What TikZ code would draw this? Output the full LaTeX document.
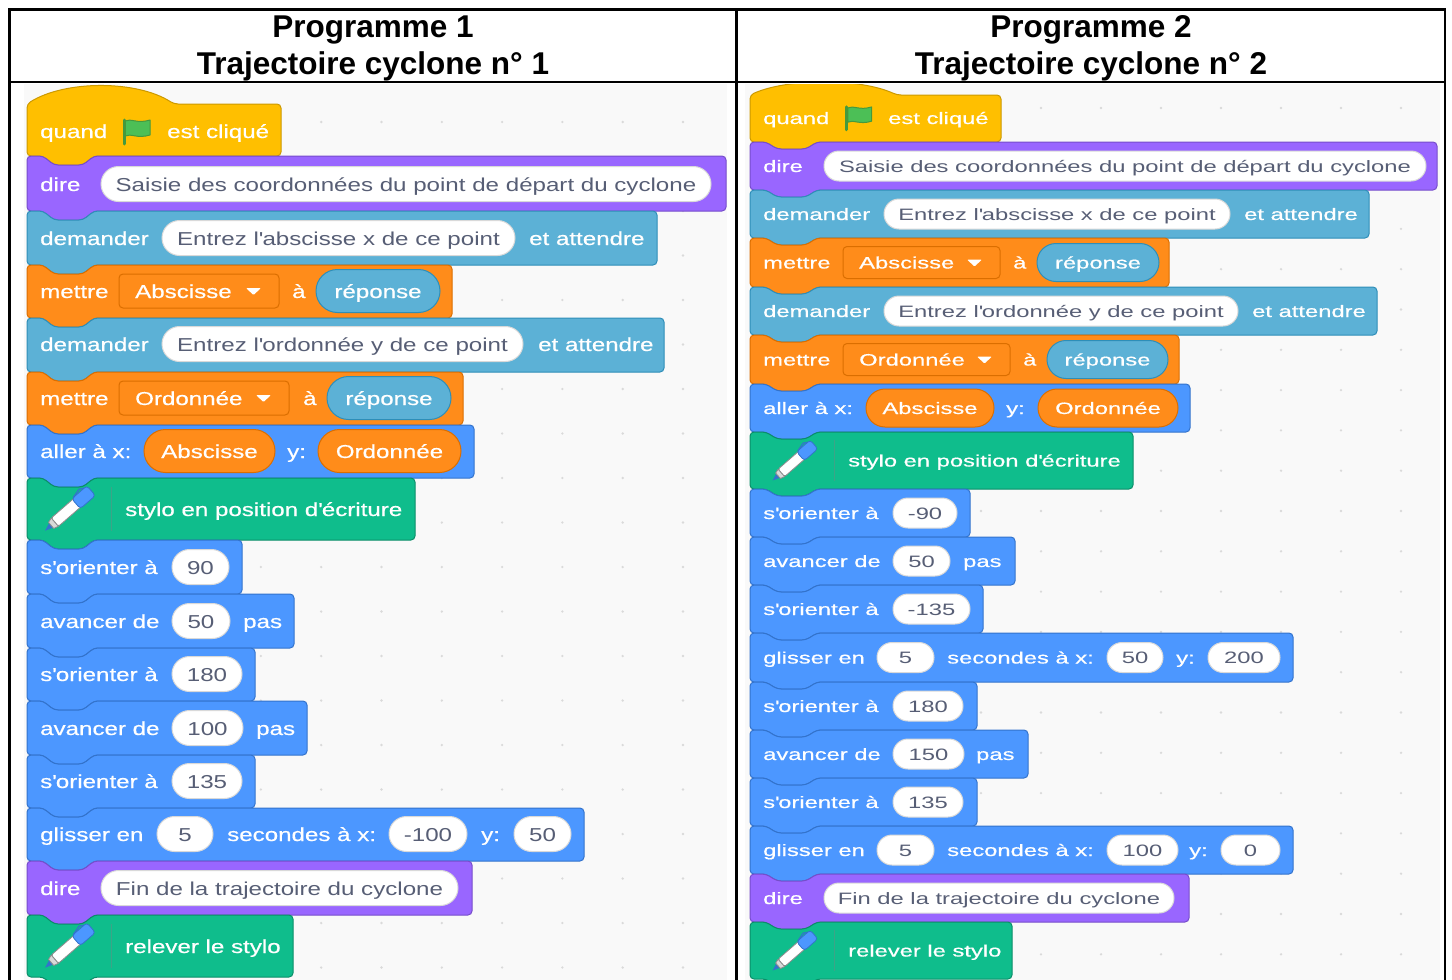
\documentclass[tikz,border=0pt]{standalone}
\usepackage{fontspec}
\setmainfont{Liberation Sans}
\newfontfamily\scrwideL[FakeStretch=1.29,FakeBold=0.6]{Liberation Sans}
\newfontfamily\scrwideR[FakeStretch=1.44,FakeBold=0.6]{Liberation Sans}
\newfontfamily\inwideL[FakeStretch=1.29]{Liberation Sans}
\newfontfamily\inwideR[FakeStretch=1.44]{Liberation Sans}

\definecolor{evfill}{HTML}{FFBF00}\definecolor{evline}{HTML}{CC9900}
\definecolor{lkfill}{HTML}{9966FF}\definecolor{lkline}{HTML}{774DCB}
\definecolor{snfill}{HTML}{5CB1D6}\definecolor{snline}{HTML}{2E8EB8}
\definecolor{vrfill}{HTML}{FF8C1A}\definecolor{vrline}{HTML}{DB6E00}
\definecolor{mofill}{HTML}{4C97FF}\definecolor{moline}{HTML}{3373CC}
\definecolor{pnfill}{HTML}{0FBD8C}\definecolor{pnline}{HTML}{0B8E69}
\definecolor{intext}{HTML}{575E75}
\definecolor{panel}{HTML}{F9F9F9}
\definecolor{dotc}{HTML}{DADADA}
\definecolor{flagfill}{HTML}{4CBF56}\definecolor{flagline}{HTML}{45993D}

\tikzset{
  evblock/.style={fill=evfill, draw=evline, line width=1},
  lkblock/.style={fill=lkfill, draw=lkline, line width=1},
  snblock/.style={fill=snfill, draw=snline, line width=1},
  vrblock/.style={fill=vrfill, draw=vrline, line width=1},
  moblock/.style={fill=mofill, draw=moline, line width=1},
  pnblock/.style={fill=pnfill, draw=pnline, line width=1},
  whitein/.style={fill=white, draw=black!15, line width=1},
  lbl/.style={text=white, anchor=base west, inner sep=0pt, font=\lblfont},
  reptxt/.style={text=white, anchor=base, inner sep=0pt, font=\lblfont},
  intxt/.style={text=intext, anchor=base, inner sep=0pt, font=\infont},
  hdr/.style={anchor=base, inner sep=0pt, font=\bfseries\fontsize{31.5}{37}\selectfont}
}

\newcounter{lb}
\newcommand{\q}{\textquotesingle}
% stack block: style, x0, y0, x1, y1
\newcommand{\stackblk}[5]{%
  \draw[#1, rounded corners=4] (#2,#3) -- (#2+16,#3) -- (#2+27,#3+\nd) -- (#2+56,#3+\nd) -- (#2+67,#3) -- (#4,#3)
    -- (#4,#5) -- (#2+67,#5) -- (#2+56,#5+\nd) -- (#2+27,#5+\nd) -- (#2+16,#5) -- (#2,#5) -- cycle;}
% hat block: style, x0, y0, x1, y1
\newcommand{\hatblk}[5]{%
  \draw[#1, rounded corners=4] (#2,#3) .. controls (#2+38,#3-\hh) and (#2+110,#3-\hh) .. (#2+147,#3) -- (#4,#3)
    -- (#4,#5) -- (#2+67,#5) -- (#2+56,#5+\nd) -- (#2+27,#5+\nd) -- (#2+16,#5) -- (#2,#5) -- cycle;}
% label: x, y centre, text
\newcommand{\lbl}[3]{\stepcounter{lb}\node[lbl] (lb\thelb) at (#1,#2+\bo) {#3};}
% white input: x left, x right, y centre, text
\newcommand{\inpill}[4]{\stepcounter{lb}%
  \draw[whitein, rounded corners=\pr] (#1,#3-\pr) rectangle (#2,#3+\pr);
  \node[intxt] (lb\thelb) at ({(#1+#2)/2},#3+\bo) {#4};}
% reporter: style, x left, x right, y centre, text
\newcommand{\reppill}[5]{\stepcounter{lb}%
  \draw[#1, rounded corners=\rr] (#2,#4-\rr) rectangle (#3,#4+\rr);
  \node[reptxt] (lb\thelb) at ({(#2+#3)/2},#4+\bo) {#5};}
% dropdown: x left, x right, y centre, text
\newcommand{\drop}[4]{\stepcounter{lb}%
  \draw[vrblock, rounded corners=4] (#1,#3-\dr) rectangle (#2,#3+\dr);
  \node[lbl] (lb\thelb) at (#1+16,#3+\bo) {#4};
  \fill[white, rounded corners=1] (#2-33,#3-3) -- (#2-18,#3-3) -- (#2-25.5,#3+4) -- cycle;}
\newcommand{\flagicon}[3]{%
  \begin{scope}[shift={(#1,#2)}, scale=#3]
    \filldraw[fill=flagfill, draw=flagline, line width=1, line join=round] (3,2) .. controls (9,-1) and (15,5) .. (28,1)
      -- (28,16) .. controls (15,20) and (9,14) .. (3,17) -- cycle;
    \draw[flagline, line width=3, line cap=round] (2,1) -- (2,25);
  \end{scope}}
\newcommand{\penicon}[3]{%
  \begin{scope}[shift={(#1,#2)}, scale=#3, rotate=41]
    \fill[moline] (-33,0) -- (-25,-3) -- (-25,3) -- cycle;
    \filldraw[fill=black!15, draw=black!45, line width=0.8] (-25,-4) -- (-20,-5.5) -- (-20,5.5) -- (-25,4) -- cycle;
    \filldraw[fill=white, draw=black!45, line width=0.8, rounded corners=1.5] (-20,-5.5) rectangle (12,5.5);
    \filldraw[fill=mofill, draw=moline, line width=0.8, rounded corners=3] (8,-6.5) rectangle (28,6.5);
    \draw[moline, line width=1.2] (10,-6.5) -- (20,-9) -- (24,-6.5);
  \end{scope}}

\begin{document}
\begin{tikzpicture}[x=1pt, y=-1pt]
  \fill[white] (0,0) rectangle (1452,980);
  \useasboundingbox (0,0) rectangle (1452,980);

  % programme 1
  \def\lblfont{\scrwideL\fontsize{18.7}{20}\selectfont}
  \def\infont{\inwideL\fontsize{18.7}{20}\selectfont}
  \def\bo{7}\def\nd{9}\def\pr{17.5}\def\rr{21.5}\def\dr{17}\def\hh{24}
  \begin{scope}
    \clip (24,84) rectangle (727,980);
    \fill[panel] (24,84) rectangle (727,980);
    \foreach \i in {0,...,10} \foreach \j in {-1,...,19} \fill[dotc] (80+60.3*\i,122+44.5*\j) circle (1.3);

    \hatblk{evblock}{27}{104}{281}{156}
    \lbl{40}{131}{quand} \flagicon{122}{119}{1} \lbl{167}{131}{est cliqué}
    \stackblk{lkblock}{27}{156}{726}{211}
    \lbl{40}{184}{dire} \inpill{101}{711}{184}{Saisie des coordonnées du point de départ du cyclone}
    \stackblk{snblock}{27}{211}{657}{265}
    \lbl{40}{238}{demander} \inpill{162}{515}{238}{Entrez l\q abscisse x de ce point} \lbl{529}{238}{et attendre}
    \stackblk{vrblock}{27}{265}{452}{318}
    \lbl{40}{291}{mettre} \drop{119}{279}{291}{Abscisse} \lbl{292}{291}{à} \reppill{snblock}{316}{440}{291}{réponse}
    \stackblk{snblock}{27}{318}{664}{372}
    \lbl{40}{344}{demander} \inpill{162}{523}{344}{Entrez l\q ordonnée y de ce point} \lbl{538}{344}{et attendre}
    \stackblk{vrblock}{27}{372}{463}{425}
    \lbl{40}{398}{mettre} \drop{119}{289}{398}{Ordonnée} \lbl{303}{398}{à} \reppill{snblock}{327}{451}{398}{réponse}
    \stackblk{moblock}{27}{425}{474}{478}
    \lbl{40}{451}{aller à x:} \reppill{vrblock}{144}{275}{451}{Abscisse} \lbl{287}{451}{y:} \reppill{vrblock}{318}{461}{451}{Ordonnée}
    \stackblk{pnblock}{27}{478}{415}{540}
    \penicon{70}{509}{1} \draw[pnline!80] (111,487) -- (111,531); \lbl{125}{509}{stylo en position d\q écriture}
    \stackblk{moblock}{27}{540}{242}{594}
    \lbl{40}{567}{s\q orienter à} \inpill{172}{229}{567}{90}
    \stackblk{moblock}{27}{594}{294}{648}
    \lbl{40}{621}{avancer de} \inpill{172}{230}{621}{50} \lbl{243}{621}{pas}
    \stackblk{moblock}{27}{648}{255}{701}
    \lbl{40}{674}{s\q orienter à} \inpill{172}{242}{674}{180}
    \stackblk{moblock}{27}{701}{307}{755}
    \lbl{40}{728}{avancer de} \inpill{172}{243}{728}{100} \lbl{256}{728}{pas}
    \stackblk{moblock}{27}{755}{255}{808}
    \lbl{40}{781}{s\q orienter à} \inpill{172}{242}{781}{135}
    \stackblk{moblock}{27}{808}{584}{861}
    \lbl{40}{834}{glisser en} \inpill{157}{213}{834}{5} \lbl{227}{834}{secondes à x:}
    \inpill{389}{467}{834}{-100} \lbl{481}{834}{y:} \inpill{514}{571}{834}{50}
    \stackblk{lkblock}{27}{861}{472}{915}
    \lbl{40}{888}{dire} \inpill{101}{458}{888}{Fin de la trajectoire du cyclone}
    \stackblk{pnblock}{27}{915}{293}{977}
    \penicon{70}{946}{1} \draw[pnline!80] (111,924) -- (111,968); \lbl{125}{946}{relever le stylo}
  \end{scope}

  % programme 2
  \def\lblfont{\scrwideR\fontsize{16.5}{18}\selectfont}
  \def\infont{\inwideR\fontsize{16.5}{18}\selectfont}
  \def\bo{6}\def\nd{7}\def\pr{15}\def\rr{19}\def\dr{16}\def\hh{17}
  \begin{scope}
    \clip (745,84) rectangle (1440,980);
    \fill[panel] (745,84) rectangle (1440,980);
    \foreach \i in {0,...,10} \foreach \j in {-1,...,22} \fill[dotc] (801+60*\i,108+40.3*\j) circle (1.3);

    \hatblk{evblock}{750}{95}{1001}{142}
    \lbl{763}{118}{quand} \flagicon{845}{106}{0.95} \lbl{888}{118}{est cliqué}
    \stackblk{lkblock}{750}{142}{1437}{190}
    \lbl{763}{166}{dire} \inpill{824}{1426}{166}{Saisie des coordonnées du point de départ du cyclone}
    \stackblk{snblock}{750}{190}{1369}{238}
    \lbl{763}{214}{demander} \inpill{884}{1230}{214}{Entrez l\q abscisse x de ce point} \lbl{1244}{214}{et attendre}
    \stackblk{vrblock}{750}{238}{1169}{287}
    \lbl{763}{262.5}{mettre} \drop{843}{1000}{262.5}{Abscisse} \lbl{1013}{262.5}{à} \reppill{snblock}{1037}{1159}{262.5}{réponse}
    \stackblk{snblock}{750}{287}{1377}{335}
    \lbl{763}{311}{demander} \inpill{884}{1238}{311}{Entrez l\q ordonnée y de ce point} \lbl{1252}{311}{et attendre}
    \stackblk{vrblock}{750}{335}{1179}{384}
    \lbl{763}{359.5}{mettre} \drop{843}{1010}{359.5}{Ordonnée} \lbl{1023}{359.5}{à} \reppill{snblock}{1047}{1168}{359.5}{réponse}
    \stackblk{moblock}{750}{384}{1190}{432}
    \lbl{763}{408}{aller à x:} \reppill{vrblock}{866}{994}{408}{Abscisse} \lbl{1006}{408}{y:} \reppill{vrblock}{1038}{1178}{408}{Ordonnée}
    \stackblk{pnblock}{750}{432}{1133}{489}
    \penicon{795}{461}{0.9} \draw[pnline!80] (834,440) -- (834,481); \lbl{848}{460.5}{stylo en position d\q écriture}
    \stackblk{moblock}{750}{489}{970}{537}
    \lbl{763}{513}{s\q orienter à} \inpill{893}{957}{513}{-90}
    \stackblk{moblock}{750}{537}{1015}{585}
    \lbl{763}{561}{avancer de} \inpill{893}{950}{561}{50} \lbl{963}{561}{pas}
    \stackblk{moblock}{750}{585}{983}{633}
    \lbl{763}{609}{s\q orienter à} \inpill{893}{970}{609}{-135}
    \stackblk{moblock}{750}{633}{1293}{682}
    \lbl{763}{657.5}{glisser en} \inpill{877}{934}{657.5}{5} \lbl{947}{657.5}{secondes à x:}
    \inpill{1107}{1163}{657.5}{50} \lbl{1176}{657.5}{y:} \inpill{1208}{1280}{657.5}{200}
    \stackblk{moblock}{750}{682}{977}{730}
    \lbl{763}{706}{s\q orienter à} \inpill{893}{963}{706}{180}
    \stackblk{moblock}{750}{730}{1028}{778}
    \lbl{763}{754}{avancer de} \inpill{893}{964}{754}{150} \lbl{976}{754}{pas}
    \stackblk{moblock}{750}{778}{977}{826}
    \lbl{763}{802}{s\q orienter à} \inpill{893}{963}{802}{135}
    \stackblk{moblock}{750}{826}{1293}{874}
    \lbl{763}{850}{glisser en} \inpill{877}{934}{850}{5} \lbl{947}{850}{secondes à x:}
    \inpill{1107}{1178}{850}{100} \lbl{1189}{850}{y:} \inpill{1221}{1280}{850}{0}
    \stackblk{lkblock}{750}{874}{1189}{922}
    \lbl{763}{898}{dire} \inpill{824}{1174}{898}{Fin de la trajectoire du cyclone}
    \stackblk{pnblock}{750}{922}{1012}{979}
    \penicon{795}{951}{0.9} \draw[pnline!80] (834,930) -- (834,971); \lbl{848}{950.5}{relever le stylo}
  \end{scope}

  % table
  \node[hdr] (titleA) at (373,37) {Programme 1};
  \node[hdr] (subA) at (373,74) {Trajectoire cyclone n° 1};
  \node[hdr] (titleB) at (1091,37) {Programme 2};
  \node[hdr] (subB) at (1091,74) {Trajectoire cyclone n° 2};
  \draw[line width=2.5] (9.5,990) -- (9.5,9.5) -- (1445,9.5) -- (1445,990);
  \draw[line width=2.5] (9.5,82) -- (1445,82);
  \draw[line width=2.5] (736.5,9.5) -- (736.5,990);
\end{tikzpicture}
\end{document}
